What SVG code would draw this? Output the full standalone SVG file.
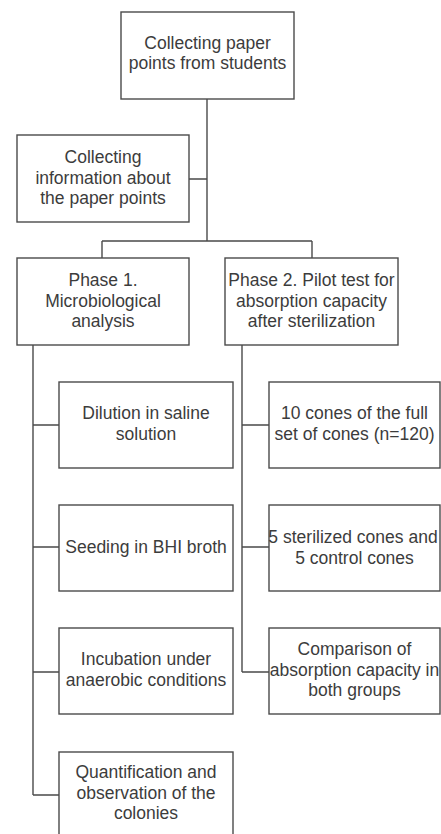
<svg xmlns="http://www.w3.org/2000/svg" width="441" height="834" viewBox="0 0 441 834">
<style>
.box{fill:#fff;stroke:#4a4a4a;stroke-width:1.4}
.c{fill:none;stroke:#4a4a4a;stroke-width:1.4}
text{font-family:"Liberation Sans",Arial,sans-serif;font-size:17.5px;fill:#3c3c3c;text-anchor:middle}
</style>
<rect width="441" height="834" fill="#fff"/>
<g id="connectors">
<path class="c" d="M207,99V241M189,179H207M102,241H312M102,241V258M312,241V258"/>
<path class="c" d="M33,345V795M33,425H59M33,547H59M33,672H59M33,795H59"/>
<path class="c" d="M242,345V672M242,425H269M242,547H269M242,672H269"/>
</g>
<g id="n1"><rect class="box" x="121" y="12" width="173" height="87"/>
<text x="207.5" y="49">Collecting paper</text><text x="207.5" y="69">points from students</text></g>
<g id="n2"><rect class="box" x="17" y="135" width="172" height="87"/>
<text x="103" y="163">Collecting</text><text x="103" y="183.5">information about</text><text x="103" y="204">the paper points</text></g>
<g id="n3"><rect class="box" x="17" y="258" width="172" height="87"/>
<text x="103" y="286">Phase 1.</text><text x="103" y="306.5">Microbiological</text><text x="103" y="327">analysis</text></g>
<g id="n4"><rect class="box" x="225" y="258" width="173" height="87"/>
<text x="311.5" y="286">Phase 2. Pilot test for</text><text x="311.5" y="306.5">absorption capacity</text><text x="311.5" y="327">after sterilization</text></g>
<g id="n5"><rect class="box" x="59" y="382" width="174" height="86"/>
<text x="146" y="419">Dilution in saline</text><text x="146" y="439.5">solution</text></g>
<g id="n6"><rect class="box" x="59" y="505" width="174" height="86"/>
<text x="146" y="553">Seeding in BHI broth</text></g>
<g id="n7"><rect class="box" x="59" y="628" width="174" height="86"/>
<text x="146" y="665">Incubation under</text><text x="146" y="685.5">anaerobic conditions</text></g>
<g id="n8"><rect class="box" x="59" y="752" width="174" height="86"/>
<text x="146" y="778">Quantification and</text><text x="146" y="798.5">observation of the</text><text x="146" y="819">colonies</text></g>
<g id="n9"><rect class="box" x="269" y="382" width="171" height="86"/>
<text x="354.5" y="419">10 cones of the full</text><text x="354.5" y="439.5">set of cones (n=120)</text></g>
<g id="n10"><rect class="box" x="269" y="505" width="171" height="86"/>
<text x="353" y="543">5 sterilized cones and</text><text x="354.5" y="563.5">5 control cones</text></g>
<g id="n11"><rect class="box" x="269" y="628" width="171" height="86"/>
<text x="354.5" y="655">Comparison of</text><text x="354.5" y="675.5">absorption capacity in</text><text x="354.5" y="696">both groups</text></g>
</svg>
